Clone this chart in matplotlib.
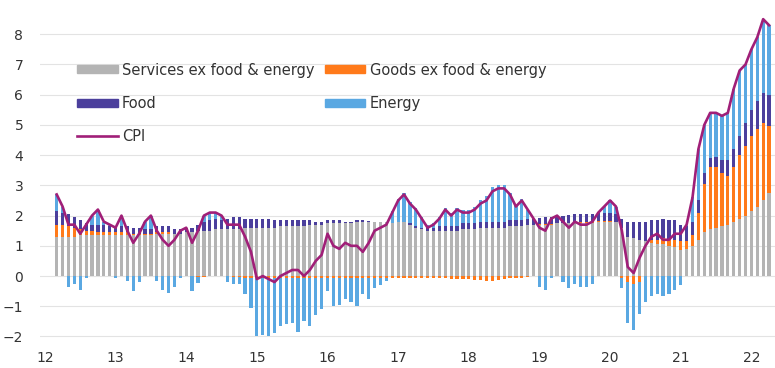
import numpy as np
import matplotlib.pyplot as plt
from matplotlib.patches import Patch
from matplotlib.lines import Line2D

# =========================
# Data: contributions to US CPI y/y (ppt), monthly Mar 2012 - Apr 2022
# =========================
start_year = 2012
start_month = 3

cpi = [
    2.7, 2.3, 1.7, 1.7, 1.4, 1.7, 2.0, 2.2, 1.8, 1.7,
    1.6, 2.0, 1.5, 1.1, 1.4, 1.8, 2.0, 1.5, 1.2, 1.0, 1.2, 1.5,
    1.6, 1.1, 1.5, 2.0, 2.1, 2.1, 2.0, 1.7, 1.7, 1.7, 1.3, 0.8,
    -0.1, 0.0, -0.1, -0.2, 0.0, 0.1, 0.2, 0.2, 0.0, 0.2, 0.5, 0.7,
    1.4, 1.0, 0.9, 1.1, 1.0, 1.0, 0.8, 1.1, 1.5, 1.6, 1.7, 2.1,
    2.5, 2.7, 2.4, 2.2, 1.9, 1.6, 1.7, 1.9, 2.2, 2.0, 2.2, 2.1,
    2.1, 2.2, 2.4, 2.5, 2.8, 2.9, 2.9, 2.7, 2.3, 2.5, 2.2, 1.9,
    1.6, 1.5, 1.9, 2.0, 1.8, 1.6, 1.8, 1.7, 1.7, 1.8, 2.1, 2.3,
    2.5, 2.3, 1.5, 0.3, 0.1, 0.6, 1.0, 1.3, 1.4, 1.2, 1.2, 1.4,
    1.4, 1.7, 2.6, 4.2, 5.0, 5.4, 5.4, 5.3, 5.4, 6.2, 6.8, 7.0,
    7.5, 7.9, 8.5, 8.3,
]

services = [
    1.3, 1.3, 1.3, 1.3, 1.35, 1.35, 1.35, 1.35, 1.35, 1.35,
    1.35, 1.35, 1.35, 1.35, 1.35, 1.35, 1.35, 1.4, 1.4, 1.4, 1.4, 1.4,
    1.45, 1.45, 1.5, 1.5, 1.5, 1.55, 1.55, 1.55, 1.55, 1.55, 1.6, 1.6,
    1.6, 1.6, 1.6, 1.6, 1.65, 1.65, 1.65, 1.65, 1.65, 1.7, 1.7, 1.7,
    1.75, 1.75, 1.75, 1.75, 1.75, 1.8, 1.8, 1.8, 1.8, 1.8, 1.8, 1.75,
    1.8, 1.8, 1.7, 1.6, 1.55, 1.5, 1.5, 1.5, 1.5, 1.5, 1.5, 1.55,
    1.55, 1.55, 1.6, 1.6, 1.6, 1.6, 1.6, 1.65, 1.65, 1.65, 1.7, 1.7,
    1.7, 1.7, 1.7, 1.75, 1.75, 1.75, 1.75, 1.75, 1.75, 1.75, 1.8, 1.8,
    1.8, 1.8, 1.6, 1.3, 1.25, 1.2, 1.15, 1.1, 1.05, 1.05, 1.0, 0.95,
    0.85, 0.9, 1.0, 1.2, 1.45, 1.55, 1.6, 1.65, 1.7, 1.8, 1.9, 2.0,
    2.15, 2.3, 2.5, 2.75,
]

goods = [
    0.4, 0.4, 0.35, 0.3, 0.2, 0.15, 0.15, 0.1, 0.1, 0.1,
    0.1, 0.1, 0.1, 0.05, 0.05, 0.05, 0.05, 0.05, 0.05, 0.05, 0.0, 0.0,
    0.0, 0.0, -0.02, -0.02, 0.0, 0.0, 0.0, 0.0, -0.02, -0.02, -0.05, -0.05,
    -0.05, -0.05, -0.05, -0.05, -0.05, -0.05, -0.05, -0.05, -0.05, -0.05, -0.05, -0.05,
    -0.05, -0.05, -0.05, -0.05, -0.05, -0.05, -0.05, -0.05, -0.05, -0.05, -0.05, -0.05,
    -0.05, -0.05, -0.05, -0.07, -0.07, -0.07, -0.07, -0.07, -0.07, -0.1, -0.1, -0.1,
    -0.1, -0.12, -0.12, -0.15, -0.15, -0.12, -0.1, -0.05, -0.05, -0.05, -0.02, 0.0,
    0.02, 0.02, 0.02, 0.0, 0.0, 0.02, 0.05, 0.05, 0.05, 0.05, 0.02, 0.02,
    0.02, 0.0, -0.05, -0.2, -0.25, -0.2, 0.0, 0.1, 0.15, 0.2, 0.2, 0.25,
    0.3, 0.25, 0.35, 0.9, 1.6, 2.05, 2.0, 1.75, 1.6, 1.8, 2.1, 2.3,
    2.5, 2.55, 2.55, 2.2,
]

food = [
    0.45, 0.4, 0.4, 0.35, 0.3, 0.25, 0.2, 0.25, 0.25, 0.2,
    0.2, 0.2, 0.2, 0.2, 0.2, 0.15, 0.15, 0.2, 0.2, 0.2, 0.15, 0.15,
    0.15, 0.15, 0.2, 0.3, 0.35, 0.35, 0.3, 0.35, 0.4, 0.4, 0.3, 0.3,
    0.3, 0.3, 0.3, 0.25, 0.2, 0.2, 0.2, 0.2, 0.2, 0.15, 0.1, 0.1,
    0.1, 0.1, 0.1, 0.05, 0.05, 0.05, 0.05, 0.02, 0.0, 0.0, 0.0, 0.0,
    0.0, 0.0, 0.05, 0.05, 0.05, 0.1, 0.1, 0.15, 0.15, 0.15, 0.15, 0.2,
    0.2, 0.2, 0.2, 0.2, 0.2, 0.2, 0.2, 0.2, 0.2, 0.2, 0.2, 0.2,
    0.2, 0.25, 0.25, 0.25, 0.25, 0.25, 0.25, 0.25, 0.25, 0.25, 0.25, 0.25,
    0.25, 0.25, 0.3, 0.5, 0.55, 0.6, 0.65, 0.65, 0.65, 0.65, 0.65, 0.65,
    0.55, 0.5, 0.45, 0.4, 0.35, 0.3, 0.35, 0.45, 0.55, 0.6, 0.65, 0.75,
    0.85, 0.95, 1.0, 1.05,
]

energy = [
    0.55, 0.2, -0.35, -0.25, -0.45, -0.05, 0.3, 0.5, 0.1, 0.05,
    -0.05, 0.35, -0.15, -0.5, -0.2, 0.25, 0.45, -0.15, -0.45, -0.55, -0.35, -0.05,
    0.0, -0.5, -0.2, 0.2, 0.25, 0.2, 0.15, -0.2, -0.25, -0.25, -0.55, -1.0,
    -1.95, -1.9, -1.95, -1.85, -1.6, -1.55, -1.5, -1.8, -1.45, -1.6, -1.25, -1.05,
    -0.45, -0.95, -0.9, -0.7, -0.8, -0.95, -0.55, -0.7, -0.35, -0.25, -0.1, 0.4,
    0.75, 0.95, 0.7, 0.6, 0.35, 0.1, 0.15, 0.3, 0.6, 0.45, 0.6, 0.45,
    0.45, 0.55, 0.7, 0.85, 1.15, 1.2, 1.2, 0.9, 0.5, 0.7, 0.3, 0.0,
    -0.35, -0.45, -0.05, 0.0, -0.2, -0.4, -0.25, -0.35, -0.35, -0.25, 0.05, 0.25,
    0.45, 0.25, -0.35, -1.35, -1.55, -1.05, -0.85, -0.65, -0.6, -0.65, -0.6, -0.45,
    -0.3, 0.05, 0.8, 1.7, 1.6, 1.5, 1.45, 1.45, 1.55, 2.0, 2.15, 1.95,
    2.0, 2.1, 2.45, 2.3,
]

year_ticks = list(range(12, 23))
year_labels = [str(y) for y in year_ticks]
ytick_vals = list(range(-2, 9))

series_names = ["Services ex food & energy", "Goods ex food & energy", "Food", "Energy"]
series_colors = ["#b4b4b4", "#ff7a1a", "#4b3f9c", "#5aa8e2"]
cpi_color = "#a01f78"

# =========================
# Positions (year as decimal, 12 = Jan 2012)
# =========================
n = len(cpi)
x = np.array([(start_year - 2000) + (start_month - 1 + i) / 12.0 for i in range(n)])

fig = plt.figure(figsize=(7.75, 3.68), dpi=100)
ax = fig.add_axes([0.0516, 0.061, 0.948, 0.928])

pos_bottom = np.zeros(n)
neg_bottom = np.zeros(n)
bar_w = 0.55 / 12

for vals, color in zip([services, goods, food, energy], series_colors):
    v = np.array(vals, dtype=float)
    pos = np.where(v > 0, v, 0)
    neg = np.where(v < 0, v, 0)
    ax.bar(x, pos, bottom=pos_bottom, width=bar_w, color=color, linewidth=0, zorder=2)
    ax.bar(x, neg, bottom=neg_bottom, width=bar_w, color=color, linewidth=0, zorder=2)
    pos_bottom += pos
    neg_bottom += neg

ax.plot(x, cpi, color=cpi_color, linewidth=1.9, zorder=3)

ax.set_xlim(11.93, 22.33)
ax.set_ylim(-2.3, 9.0)
ax.set_xticks(year_ticks)
ax.set_xticklabels(year_labels)
ax.set_yticks(ytick_vals)
ax.tick_params(axis="both", length=0, labelsize=10, colors="#333333")
ax.tick_params(axis="y", pad=12)
ax.tick_params(axis="x", pad=4)
for s in ax.spines.values():
    s.set_visible(False)
ax.grid(axis="y", color="#e3e3e3", linewidth=0.8, zorder=0)
ax.set_axisbelow(True)

handles = [
    Patch(color=series_colors[0]),
    Patch(color=series_colors[2]),
    Line2D([0], [0], color=cpi_color, linewidth=1.9),
    Patch(color=series_colors[1]),
    Patch(color=series_colors[3]),
]
labels = [series_names[0], series_names[2], "CPI", series_names[1], series_names[3]]
fig.legend(
    handles, labels,
    ncol=2,
    loc="upper left",
    bbox_to_anchor=(0.099, 0.83),
    frameon=False,
    fontsize=10.5,
    handlelength=2.8,
    handleheight=0.45,
    handletextpad=0.3,
    labelspacing=1.25,
    columnspacing=0.7,
    borderpad=0,
    borderaxespad=0,
    labelcolor="#333333",
)

plt.savefig("out.png", dpi=100)
